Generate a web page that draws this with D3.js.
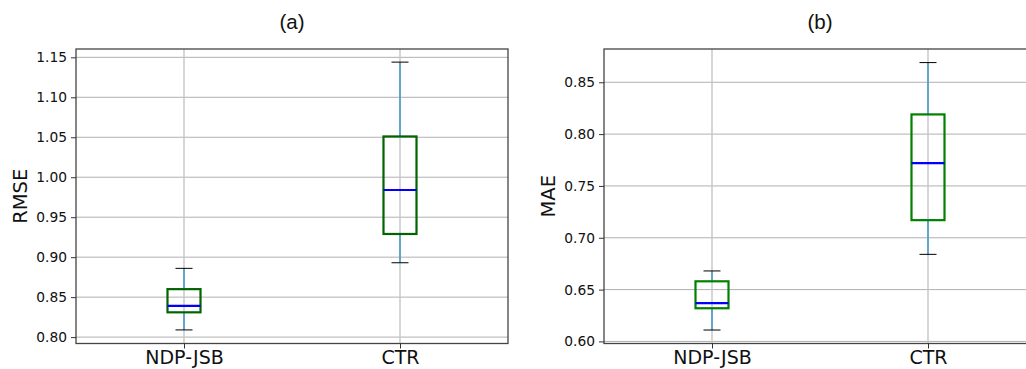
<!DOCTYPE html>
<html>
<head>
<meta charset="utf-8">
<script src="https://cdn.jsdelivr.net/npm/d3@7/dist/d3.min.js"></script>
<style>
  body { margin: 0; background: #fff; }
  svg { font-family: "DejaVu Sans", sans-serif; }
</style>
</head>
<body>
<svg id="chart" width="1026" height="369"></svg>
<script>
// data
const categories = ["NDP-JSB", "CTR"]

// [whisker low, q1, median, q3, whisker high]
const rmseStats = [
  [0.809, 0.831, 0.839, 0.860, 0.886],
  [0.893, 0.929, 0.984, 1.051, 1.144]
]
const maeStats = [
  [0.611, 0.632, 0.637, 0.658, 0.668],
  [0.684, 0.717, 0.772, 0.819, 0.869]
]

const rmseTicks = [0.80, 0.85, 0.90, 0.95, 1.00, 1.05, 1.10, 1.15]
const maeTicks = [0.60, 0.65, 0.70, 0.75, 0.80, 0.85]

const svg = d3.select('#chart')

function drawPanel(opts) {
  const left = opts.left, right = opts.left + 432
  const top = 49, bottom = 343.5

  const g = svg.append('g')

  const x = d3.scalePoint(categories, [left, right]).padding(0.5)
  const y = d3.scaleLinear(opts.domain, [bottom, top])

  // grid
  g.selectAll('.hgrid')
    .data(opts.ticks)
    .join('line')
    .attr('x1', left).attr('x2', right)
    .attr('y1', d => y(d)).attr('y2', d => y(d))
    .attr('stroke', '#b0b0b0')
    .attr('stroke-width', 1)

  g.selectAll('.vgrid')
    .data(categories)
    .join('line')
    .attr('x1', d => x(d)).attr('x2', d => x(d))
    .attr('y1', top).attr('y2', bottom)
    .attr('stroke', '#c8c8c8')
    .attr('stroke-width', 1.5)

  // boxes
  const boxW = 33, capW = 17
  opts.stats.forEach((s, i) => {
    const cx = x(categories[i])
    const bg = g.append('g')
    // whiskers
    bg.append('line')
      .attr('x1', cx).attr('x2', cx)
      .attr('y1', y(s[0])).attr('y2', y(s[1]))
      .attr('stroke', '#3a96c8').attr('stroke-width', 1.5)
    bg.append('line')
      .attr('x1', cx).attr('x2', cx)
      .attr('y1', y(s[3])).attr('y2', y(s[4]))
      .attr('stroke', '#3a96c8').attr('stroke-width', 1.5)
    // caps
    bg.selectAll('.cap')
      .data([s[0], s[4]])
      .join('line')
      .attr('x1', cx - capW / 2).attr('x2', cx + capW / 2)
      .attr('y1', d => y(d)).attr('y2', d => y(d))
      .attr('stroke', '#000').attr('stroke-width', 1)
    // box
    bg.append('rect')
      .attr('x', cx - boxW / 2)
      .attr('y', y(s[3]))
      .attr('width', boxW)
      .attr('height', y(s[1]) - y(s[3]))
      .attr('fill', 'none')
      .attr('stroke', opts.boxColor)
      .attr('stroke-width', 2.2)
    // median
    bg.append('line')
      .attr('x1', cx - boxW / 2).attr('x2', cx + boxW / 2)
      .attr('y1', y(s[2])).attr('y2', y(s[2]))
      .attr('stroke', '#0000ff').attr('stroke-width', 2.2)
  })

  // frame
  g.append('rect')
    .attr('x', left).attr('y', top)
    .attr('width', right - left).attr('height', bottom - top)
    .attr('fill', 'none')
    .attr('stroke', '#444')
    .attr('stroke-width', 1.3)

  // y axis
  const yAxis = d3.axisLeft(y)
    .tickValues(opts.ticks)
    .tickFormat(d3.format('.2f'))
    .tickSize(5)
    .tickPadding(4)
  g.append('g')
    .attr('transform', `translate(${left},0)`)
    .call(yAxis)
    .call(a => a.select('.domain').remove())
    .call(a => a.selectAll('text').attr('font-size', 13.8).attr('fill', '#111').attr('font-family', 'DejaVu Sans'))
    .call(a => a.selectAll('line').attr('stroke', '#333'))

  // x axis
  const xAxis = d3.axisBottom(x).tickSize(5).tickPadding(2)
  g.append('g')
    .attr('transform', `translate(0,${bottom})`)
    .call(xAxis)
    .call(a => a.select('.domain').remove())
    .call(a => a.selectAll('text').attr('font-size', 19).attr('fill', '#111').attr('font-family', 'DejaVu Sans'))
    .call(a => a.selectAll('line').attr('stroke', '#333'))

  // y label
  g.append('text')
    .text(opts.label)
    .attr('text-anchor', 'middle')
    .attr('transform', `translate(${left - 49},${(top + bottom) / 2}) rotate(-90)`)
    .attr('font-size', 19.5)
    .attr('fill', '#111')

  // title
  g.append('text')
    .text(opts.title)
    .attr('text-anchor', 'middle')
    .attr('x', (left + right) / 2)
    .attr('y', 29)
    .attr('font-size', 20.5)
    .attr('font-family', '"Liberation Sans", Arial, sans-serif')
    .attr('fill', '#111')
}

drawPanel({
  left: 76,
  domain: [0.792, 1.1604],
  ticks: rmseTicks,
  stats: rmseStats,
  label: 'RMSE',
  title: '(a)',
  boxColor: '#006400'
})

drawPanel({
  left: 604,
  domain: [0.598, 0.8821],
  ticks: maeTicks,
  stats: maeStats,
  label: 'MAE',
  title: '(b)',
  boxColor: '#008000'
})
</script>
</body>
</html>
